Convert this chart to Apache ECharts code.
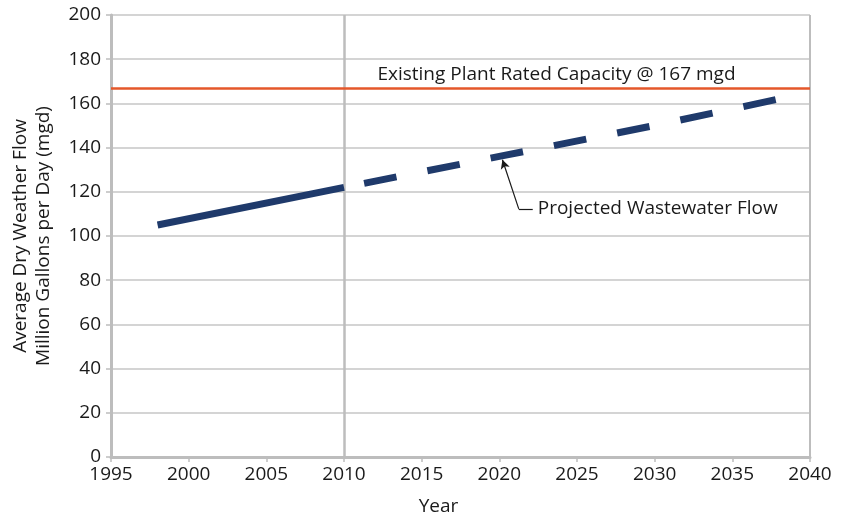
<!DOCTYPE html>
<html>
<head>
<meta charset="utf-8">
<script src="https://cdn.jsdelivr.net/npm/echarts@6/dist/echarts.min.js"></script>
<style>
  html, body { margin: 0; padding: 0; background: #fff; }
  #chart { width: 843px; height: 525px; }
</style>
</head>
<body>
<div id="chart"></div>
<script>
// Historical flow (solid) and projected flow (dashed), million gallons per day
const historicalYears = [1998, 2010];
const historicalFlow = [105, 122];
const projectedYears = [2010, 2020, 2030, 2038];
const projectedFlow = [122, 136, 150, 162];
const ratedCapacity = 167;
const capacityLabel = 'Existing Plant Rated Capacity @ 167 mgd';
const projectionLabel = 'Projected Wastewater Flow';
const yTicks = [0, 20, 40, 60, 80, 100, 120, 140, 160, 180, 200];
const xTicks = [1995, 2000, 2005, 2010, 2015, 2020, 2025, 2030, 2035, 2040];
// Leader line for the projection label: arrow tip, elbow, label start
const leaderTip = [2020.2, 134.5];
const leaderElbow = [2021.25, 112.3];
const leaderEnd = [2022.15, 112.3];

const FONT = 'Open Sans';
const GRID_GRAY = '#c6c6c6';
const AXIS_GRAY = '#bdbdbd';
const NAVY = '#1f3a6b';
const ORANGE = '#e4572a';

const chart = echarts.init(document.getElementById('chart'));

const pairs = (xs, ys) => xs.map((x, i) => [x, ys[i]]);

chart.setOption({
  animation: false,
  backgroundColor: '#ffffff',
  textStyle: { fontFamily: FONT },
  grid: { left: 111, right: 33, top: 15, bottom: 68 },
  xAxis: {
    type: 'value',
    min: xTicks[0], max: xTicks[xTicks.length - 1], interval: 5,
    name: 'Year',
    nameLocation: 'middle',
    nameGap: 40,
    nameTextStyle: { fontFamily: FONT, fontSize: 19, color: '#1a1a1a', padding: [0, 44, 0, 0] },
    axisLine: { show: true, onZero: false, lineStyle: { color: AXIS_GRAY, width: 3 } },
    axisTick: { show: true, length: 5, lineStyle: { color: AXIS_GRAY, width: 1.5 } },
    axisLabel: { fontFamily: FONT, fontSize: 19, color: '#1a1a1a', margin: 8, formatter: v => String(v) },
    splitLine: { show: false }
  },
  yAxis: {
    type: 'value',
    min: yTicks[0], max: yTicks[yTicks.length - 1], interval: 20,
    name: 'Average Dry Weather Flow\nMillion Gallons per Day (mgd)',
    nameLocation: 'middle',
    nameRotate: 90,
    nameGap: 56,
    nameTextStyle: { fontFamily: FONT, fontSize: 19, color: '#1a1a1a', lineHeight: 23 },
    axisLine: { show: true, lineStyle: { color: AXIS_GRAY, width: 3 } },
    axisTick: { show: true, length: 5, lineStyle: { color: AXIS_GRAY, width: 1.5 } },
    axisLabel: { fontFamily: FONT, fontSize: 19, color: '#1a1a1a', margin: 10, formatter: v => String(v) },
    splitLine: { show: true, lineStyle: { color: GRID_GRAY, width: 1.5 } }
  },
  series: [
    {
      name: 'Reference lines',
      type: 'line',
      data: [],
      silent: true,
      markLine: {
        symbol: 'none',
        silent: true,
        label: { show: false },
        data: [
          { xAxis: 2010, lineStyle: { color: AXIS_GRAY, width: 2.5, type: 'solid' } },
          { xAxis: 2040, lineStyle: { color: AXIS_GRAY, width: 2, type: 'solid' } }
        ]
      }
    },
    {
      name: 'Capacity',
      type: 'line',
      data: [],
      silent: true,
      markLine: {
        symbol: 'none',
        silent: true,
        data: [{
          yAxis: ratedCapacity,
          lineStyle: { color: ORANGE, width: 2.5, type: 'solid' },
          label: {
            show: true,
            position: 'insideMiddleTop',
            formatter: capacityLabel,
            fontFamily: FONT, fontSize: 19, color: '#1a1a1a',
            distance: 4,
            offset: [96, 0]
          }
        }]
      }
    },
    {
      name: 'Historical',
      type: 'line',
      data: pairs(historicalYears, historicalFlow),
      showSymbol: false,
      lineStyle: { color: NAVY, width: 7, cap: 'butt' },
      z: 5
    },
    {
      name: 'Projected',
      type: 'line',
      data: pairs(projectedYears, projectedFlow),
      showSymbol: false,
      lineStyle: { color: NAVY, width: 7, type: [33, 31.5], dashOffset: 44, cap: 'butt' },
      z: 5,
      markLine: {
        silent: true,
        symbolSize: [7, 9],
        label: { show: false },
        lineStyle: { color: '#1a1a1a', width: 1.2, type: 'solid' },
        data: [
          [ { coord: leaderElbow, symbol: 'none' }, { coord: leaderTip, symbol: 'arrow' } ],
          [ { coord: leaderElbow, symbol: 'none' }, { coord: leaderEnd, symbol: 'none' } ]
        ]
      },
      markPoint: {
        silent: true,
        symbol: 'circle',
        symbolSize: 0,
        data: [{
          coord: leaderEnd,
          label: {
            show: true,
            position: 'right',
            distance: 5,
            formatter: projectionLabel,
            fontFamily: FONT, fontSize: 19, color: '#1a1a1a'
          }
        }]
      }
    }
  ]
});
</script>
</body>
</html>
